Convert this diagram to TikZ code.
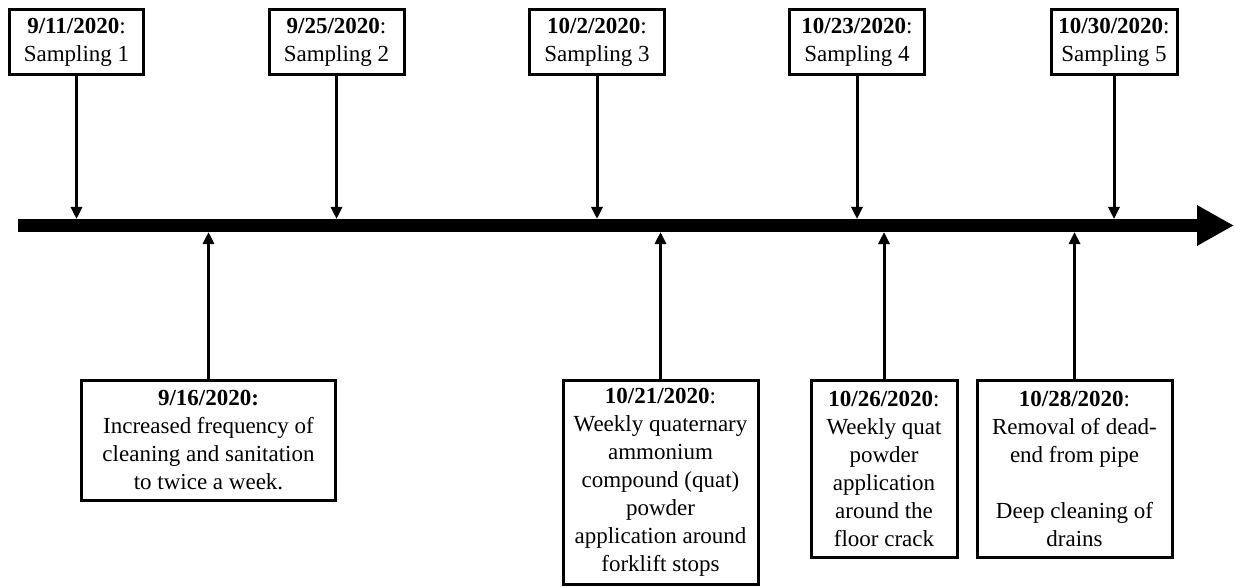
\documentclass[tikz,border=0pt]{standalone}
\usepackage{fontspec}
\setmainfont{Liberation Serif}
\usetikzlibrary{arrows.meta}

\tikzset{
  datebox/.style={draw, line width=1.5pt, align=center, anchor=north,
    inner xsep=2pt, inner ysep=4pt, font=\fontsize{11.5}{14}\selectfont},
  tick/.style={line width=1.5pt, -{Triangle[length=6pt,width=5.5pt]}},
  timeline/.style={line width=6.5pt, -{Triangle[length=18.5pt,width=19pt]}},
}

\begin{document}
\begin{tikzpicture}[x=0.5pt,y=-0.5pt]
\useasboundingbox (0,0) rectangle (1235,588);
% the time axis
\coordinate (Start) at (18,225.5);
\coordinate (End) at (1234,225.5);
\draw[timeline] (Start) -- (End);
% sampling dates
\node[datebox, minimum width=67pt, minimum height=32.5pt] (S1) at (76.5,8.5) {\textbf{9/11/2020}:\\Sampling 1};
\node[datebox, minimum width=67.5pt, minimum height=32.5pt] (S2) at (336.5,8.5) {\textbf{9/25/2020}:\\Sampling 2};
\node[datebox, minimum width=67.5pt, minimum height=32.5pt] (S3) at (597,8.5) {\textbf{10/2/2020}:\\Sampling 3};
\node[datebox, minimum width=67.5pt, minimum height=32.5pt] (S4) at (857,8.5) {\textbf{10/23/2020}:\\Sampling 4};
\node[datebox, minimum width=63pt, minimum height=32.5pt] (S5) at (1114,8.5) {\textbf{10/30/2020}:\\Sampling 5};
\coordinate (M1) at (76.5,219);
\coordinate (M2) at (336.5,219);
\coordinate (M3) at (597,219);
\coordinate (M4) at (857,219);
\coordinate (M5) at (1114,219);
\draw[tick] (S1) -- (M1);
\draw[tick] (S2) -- (M2);
\draw[tick] (S3) -- (M3);
\draw[tick] (S4) -- (M4);
\draw[tick] (S5) -- (M5);
% actions taken
\node[datebox, minimum width=127pt, minimum height=60pt] (A1) at (208.5,378.5) {\textbf{9/16/2020:}\\Increased frequency of\\cleaning and sanitation\\to twice a week.};
\node[datebox, minimum width=97.5pt, minimum height=102pt] (A2) at (660.5,378.5) {\textbf{10/21/2020}:\\Weekly quaternary\\ammonium\\compound (quat)\\powder\\application around\\forklift stops};
\node[datebox, minimum width=73pt, minimum height=88.5pt] (A3) at (884,378.5) {\textbf{10/26/2020}:\\Weekly quat\\powder\\application\\around the\\floor crack};
\node[datebox, minimum width=97.5pt, minimum height=88.5pt] (A4) at (1074.5,378.5) {\textbf{10/28/2020}:\\Removal of dead-\\end from pipe\\[14pt]Deep cleaning of\\drains};
\coordinate (N1) at (208.5,232);
\coordinate (N2) at (660.5,232);
\coordinate (N3) at (884,232);
\coordinate (N4) at (1074.5,232);
\draw[tick] (A1) -- (N1);
\draw[tick] (A2) -- (N2);
\draw[tick] (A3) -- (N3);
\draw[tick] (A4) -- (N4);
\end{tikzpicture}
\end{document}
